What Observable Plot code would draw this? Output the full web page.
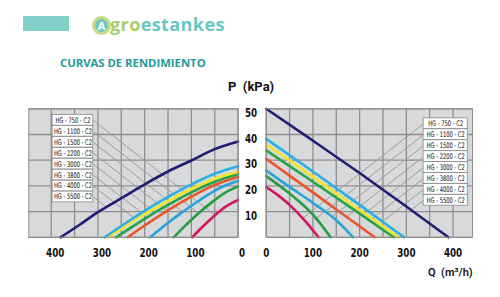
<!DOCTYPE html>
<html><head><meta charset="utf-8">
<script src="https://cdn.jsdelivr.net/npm/d3@7"></script>
<script src="https://cdn.jsdelivr.net/npm/@observablehq/plot@0.6"></script>
<style>
body{margin:0;background:#fff;width:500px;height:297px;position:relative;overflow:hidden;font-family:"Open Sans",sans-serif}
.abs{position:absolute;white-space:nowrap}
</style></head><body>
<div class="abs" style="left:23px;top:16px;width:46px;height:15px;background:#80cfc9"></div>
<div class="abs" style="left:92px;top:15.5px;width:13px;height:13px;border-radius:50%;border:3px solid #c3dd8c;background:#72c9bf;color:#fff;font:700 11px 'Open Sans';text-align:center;line-height:13px">A</div>
<div class="abs" style="left:110px;top:14.5px;font:700 18.2px/18.2px 'Open Sans';letter-spacing:0.3px"><span style="color:#a5cf6a">gro</span><span style="color:#6cc6c4">estankes</span></div>
<div class="abs" style="left:60px;top:57px;font:700 11.3px/11.3px 'Open Sans';color:#1f9b98">CURVAS DE RENDIMIENTO</div>
<div class="abs" style="left:228px;top:80px;font:700 13px/13px Roboto;color:#111">P&nbsp;&nbsp;(kPa)</div>
<div id="left" class="abs" style="left:0;top:100px"></div>
<div id="right" class="abs" style="left:240px;top:100px"></div>
<div class="abs" style="left:428px;top:267px;font:600 11px/11px Roboto;color:#111">Q&nbsp;&nbsp;(m³/h)</div>
<script>
// ---- data ----
const models = ["HG - 750 - C2","HG - 1100 - C2","HG - 1500 - C2","HG - 2200 - C2","HG - 3000 - C2","HG - 3800 - C2","HG - 4000 - C2","HG - 5500 - C2"];
const colors = ["#d3175f","#2a9c40","#28a3d9","#e9562b","#25a24b","#f3e52c","#2cafe5","#231c72"];
const qTicks = [0,100,200,300,400];
const pTicks = [10,20,30,40,50];
const qGrid = [0,50,100,150,200,250,300,350,400];
const pGrid = [0,10,20,30,40,50];

// left panel curves [Q, value]
const left750  = [[0,14.5],[25,12.1],[50,8.5],[75,4.3],[98,0]];
const left1100 = [[0,19.8],[30,17.1],[60,13.1],[90,8.5],[120,3.3],[138,0]];
const left1500 = [[0,22],[40,19.1],[80,14.7],[120,9.7],[160,4.2],[188,0]];
const left2200 = [[0,23.5],[50,20.4],[100,15.8],[150,10.5],[200,4.6],[236,0]];
const left3000 = [[0,24.5],[50,21.6],[100,17.5],[150,12.6],[200,7.2],[240,2.5],[261,0]];
const left3800 = [[0,25.5],[50,22.8],[100,18.8],[150,14.1],[200,9],[250,3.4],[279,0]];
const left4000 = [[0,27.6],[50,24.7],[100,20.6],[150,15.7],[200,10.3],[250,4.4],[286,0]];
const left5500 = [[0,37.3],[50,34.3],[100,29.9],[150,25.6],[200,20.6],[250,15.2],[300,9.8],[340,4.8],[380,0]];

// right panel curves [Q, P]
const right750  = [[0,19.5],[25,16.4],[50,12.6],[85,6],[112,0]];
const right1100 = [[0,23.8],[50,17],[100,8.8],[138,0]];
const right1500 = [[0,26],[50,19.6],[100,13.4],[150,6.6],[186,0]];
const right2200 = [[0,30.5],[50,24],[100,17.5],[150,10.8],[200,4.3],[232,0]];
const right3000 = [[0,33.8],[100,21.6],[200,9.2],[273,0]];
const right3800 = [[0,36.2],[100,23.5],[200,10.6],[283,0]];
const right4000 = [[0,38.3],[100,25.6],[200,12.6],[295,0]];
const right5500 = [[0,50],[100,37.6],[200,25],[300,12],[390,0]];

const leftSeries = [left750,left1100,left1500,left2200,left3000,left3800,left4000,left5500];
const rightSeries = [right750,right1100,right1500,right2200,right3000,right3800,right4000,right5500];

// ---- layout ----
const bg = "#d8d9da", gridC = "#8e8e8e", leadC = "#9c9c9c";
const narrow = '"Liberation Sans Narrow","DejaVu Sans Condensed",sans-serif';
const H = 165, MT = 8.3, MB = 28.2;
const kx = 0.4672, ky = (H - MT - MB) / 50;
const leadSlope = 0.78 * kx / ky;

function interp(pts, x) {
  for (let i = 0; i < pts.length - 1; i++) {
    const [x0,y0] = pts[i], [x1,y1] = pts[i+1];
    if (x >= x0 && x <= x1) return y0 + (y1 - y0) * (x - x0) / (x1 - x0);
  }
  return 0;
}
function leader(pts, x0, y0) {
  let x = x0;
  while (x > 0) {
    const yl = y0 - leadSlope * (x0 - x);
    if (yl <= interp(pts, x)) return {x1: x0, y1: y0, x2: x, y2: yl};
    x -= 0.5;
  }
  return {x1: x0, y1: y0, x2: 0, y2: y0 - leadSlope * x0};
}
function legendRows(xa, xb, yTop, series) {
  return models.map((m, i) => {
    const yc = yTop - 4.26 * i;
    return {model: m, xa, xb, xm: (xa + xb) / 2, yc, ya: yc - 2.08, yb: yc + 2.08,
            lead: leader(series[i], Math.min(xa, xb), yc)};
  });
}

function curveMarks(series) {
  return series.map((pts, i) => Plot.line(pts, {x: d => d[0], y: d => d[1], stroke: colors[i], strokeWidth: 2.6, curve: "monotone-x"}));
}

function panel(opts) {
  const {series, xDomain, reverse, ml, mr, width, legXa, legXb, legTop, yAxis, labelDx} = opts;
  const leg = legendRows(legXa, legXb, legTop, series);
  const leads = leg.map(d => d.lead);
  const svg = Plot.plot({
    width, height: H, marginLeft: ml, marginRight: mr, marginTop: MT, marginBottom: MB,
    x: {domain: xDomain, reverse},
    y: {domain: [0, 50]},
    style: {background: "transparent", overflow: "visible", fontFamily: narrow},
    marks: [
      Plot.frame({fill: bg}),
      Plot.ruleX(qGrid, {stroke: gridC, strokeWidth: 1.3}),
      Plot.ruleY(pGrid, {stroke: gridC, strokeWidth: 1.3}),
      Plot.link(leads, {x1: "x1", y1: "y1", x2: "x2", y2: "y2", stroke: leadC, strokeWidth: 1}),
      ...curveMarks(series),
      Plot.rect(leg, {x1: "xa", x2: "xb", y1: "ya", y2: "yb", fill: "#fff", stroke: "#8a8a8a", strokeWidth: 0.8}),
      Plot.text(leg, {x: "xm", y: "yc", text: "model", fontSize: 7.6, fontFamily: narrow, fill: "#000"}),
      Plot.axisX(qTicks, {tickSize: 0, tickPadding: 10, dx: labelDx, fontSize: 13, fontWeight: "bold", fill: "#111"}),
      yAxis ? Plot.axisY(pTicks, {anchor: "left", tickSize: 0, tickPadding: 9, dy: 4, fontSize: 13, fontWeight: "bold", fill: "#111"}) : Plot.axisY({ticks: []}),
      Plot.frame({stroke: gridC, strokeWidth: 1})
    ]
  });
  // condense text like the original narrow typeface
  svg.querySelectorAll("text").forEach(t => {
    const s = t.textContent.trim();
    if (s.startsWith("HG")) { t.setAttribute("textLength", s.length > 13 ? 38 : 35); t.setAttribute("lengthAdjust", "spacingAndGlyphs"); }
    else if (/^\d+$/.test(s)) { t.setAttribute("textLength", s.length * 6.1); t.setAttribute("lengthAdjust", "spacingAndGlyphs"); }
  });
  return svg;
}

document.getElementById("left").append(panel({
  series: leftSeries, xDomain: [0, 448], reverse: true, ml: 28.3, mr: 7.4, width: 245,
  legXa: 310, legXb: 397, legTop: 45.5, yAxis: false, labelDx: 4
}));
document.getElementById("right").append(panel({
  series: rightSeries, xDomain: [0, 441.6], reverse: false, ml: 25.7, mr: 28, width: 260,
  legXa: 337, legXb: 431.5, legTop: 44.2, yAxis: true, labelDx: 0
}));
</script>
</body></html>
